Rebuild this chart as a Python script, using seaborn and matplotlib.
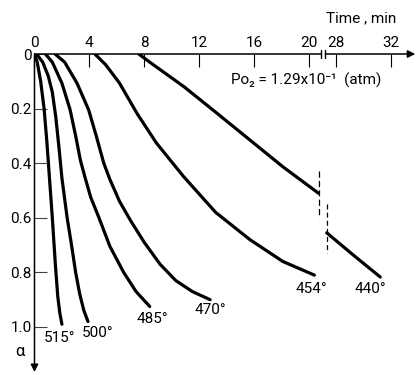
import numpy as np
import pandas as pd
import matplotlib
matplotlib.use("Agg")
import matplotlib.pyplot as plt
import seaborn as sns

# ---------------- data ----------------
t_515 = [0, 0.2, 0.45, 0.7, 0.9, 1.1, 1.3, 1.52, 1.7, 1.85, 2.0]
a_515 = [0, 0.03, 0.10, 0.20, 0.32, 0.46, 0.60, 0.77, 0.89, 0.95, 0.99]

t_500 = [0.15, 0.6, 1.0, 1.3, 1.55, 1.8, 2.0, 2.38, 2.7, 3.0, 3.3, 3.6, 3.9]
a_500 = [0, 0.03, 0.08, 0.14, 0.23, 0.35, 0.455, 0.60, 0.70, 0.80, 0.88, 0.94, 0.98]

t_485 = [0.8, 1.3, 2.0, 2.6, 3.0, 3.35, 3.7, 4.1, 4.7, 5.5, 6.5, 7.4, 8.4]
a_485 = [0, 0.03, 0.107, 0.205, 0.30, 0.39, 0.455, 0.525, 0.60, 0.705, 0.80, 0.87, 0.925]

t_470 = [1.5, 2.2, 3.1, 3.95, 4.5, 5.05, 5.5, 6.2, 7.0, 8.0, 9.15, 10.3, 11.5, 12.8]
a_470 = [0, 0.03, 0.107, 0.205, 0.30, 0.40, 0.46, 0.54, 0.61, 0.69, 0.77, 0.83, 0.87, 0.90]

t_454 = [4.4, 5.2, 6.2, 7.5, 8.9, 10.85, 13.2, 15.7, 18.1, 20.4]
a_454 = [0, 0.04, 0.107, 0.22, 0.327, 0.448, 0.58, 0.68, 0.76, 0.81]

t_440a = [7.6, 8.4, 10.9, 13.3, 15.7, 18.1, 20.7]
a_440a = [0, 0.03, 0.12, 0.217, 0.315, 0.413, 0.51]
t_440b = [27.3, 29.2, 31.2]
a_440b = [0.655, 0.735, 0.817]

curve_labels = ["515°", "500°", "485°", "470°", "454°", "440°"]
label_t = [1.86, 4.63, 8.56, 12.8, 20.2, 30.45]
label_a = [1.04, 1.022, 0.97, 0.938, 0.86, 0.86]

x_ticks = [0, 4, 8, 12, 16, 20, 28, 32]
x_tick_labels = ["0", "4", "8", "12", "16", "20", "28", "32"]
y_ticks = [0, 0.2, 0.4, 0.6, 0.8, 1.0]
y_tick_labels = ["0", "0.2", "0.4", "0.6", "0.8", "1.0"]

# time-axis break (real minutes)
break_lo, break_hi = 20.9, 27.0

# ---------------- build table ----------------
frames = []
for name, t, a in [("515", t_515, a_515), ("500", t_500, a_500),
                   ("485", t_485, a_485), ("470", t_470, a_470),
                   ("454", t_454, a_454), ("440a", t_440a, a_440a),
                   ("440b", t_440b, a_440b)]:
    frames.append(pd.DataFrame({"t": t, "alpha": a, "curve": name}))
df = pd.concat(frames, ignore_index=True)

# ---------------- figure ----------------
sns.set_theme(style="white")
plt.rcParams["font.family"] = ["Roboto", "DejaVu Sans"]

fig = plt.figure(figsize=(4.17, 3.75), dpi=100)
ax = fig.add_axes([0.0827, 0.0043, 0.9147, 0.8517])

sns.lineplot(data=df, x="t", y="alpha", units="curve", estimator=None,
             sort=False, color="black", linewidth=2.3, legend=False, ax=ax)

src = [-100, break_lo, break_hi, 200]
dst = [-100, break_lo, break_lo + 0.1, 200 - (break_hi - break_lo - 0.1)]


def fwd(x):
    return np.interp(x, src, dst)


def inv(y):
    return np.interp(y, dst, src)


ax.set_xscale("function", functions=(fwd, inv))
ax.set_xlim(0, 33.8)
ax.set_ylim(1.17, 0)
ax.set_xlabel("")
ax.set_ylabel("")
for s in ax.spines.values():
    s.set_visible(False)

ax.set_xticks(x_ticks)
ax.set_xticklabels(x_tick_labels)
ax.set_yticks(y_ticks)
ax.set_yticklabels(y_tick_labels)
ax.xaxis.set_ticks_position("top")
ax.tick_params(axis="x", which="major", direction="in", length=9, width=0.8,
               color="black", pad=3, labelsize=11, top=True, bottom=False,
               labeltop=True, labelbottom=False, labelcolor="black")
ax.tick_params(axis="y", which="major", direction="in", length=9.5, width=0.8,
               color="#444444", pad=2, labelsize=11, left=True,
               labelcolor="black")
ax.tick_params(which="minor", length=0)

# axis lines with arrows and break
lw_ax = 1.1
ax.plot([0, 20.85], [0, 0], color="black", lw=lw_ax, clip_on=False,
        solid_capstyle="butt")
ax.annotate("", xy=(33.75, 0), xytext=(27.2, 0), annotation_clip=False,
            arrowprops=dict(arrowstyle="-|>", color="black", lw=lw_ax,
                            mutation_scale=11, shrinkA=0, shrinkB=0))
ax.annotate("", xy=(0, 1.165), xytext=(0, 0), annotation_clip=False,
            arrowprops=dict(arrowstyle="-|>", color="black", lw=lw_ax,
                            mutation_scale=11, shrinkA=0, shrinkB=0))
for xb in (20.85, 27.2):
    ax.plot([xb, xb], [-0.016, 0.016], color="black", lw=1.0, clip_on=False)

# break marks on the 440 curve
ax.plot([20.7, 20.7], [0.43, 0.60], color="black", lw=0.9,
        linestyle=(0, (5, 2.5)))
ax.plot([27.3, 27.3], [0.55, 0.73], color="black", lw=0.9,
        linestyle=(0, (4, 2.5)))

# curve labels
for lab, x, y in zip(curve_labels, label_t, label_a):
    ax.text(x, y, lab, ha="center", va="center", fontsize=11, color="black")

ax.text(-1.06, 1.09, "α", ha="center", va="center", fontsize=12,
        color="black", clip_on=False)
ax.text(29.8, -0.132, "Time , min", ha="center", va="center", fontsize=11,
        color="black", clip_on=False)
ax.text(19.8, 0.095, "Po₂ = 1.29x10⁻¹  (atm)", ha="center", va="center",
        fontsize=11, color="black")

fig.savefig("out.png", dpi=100)
